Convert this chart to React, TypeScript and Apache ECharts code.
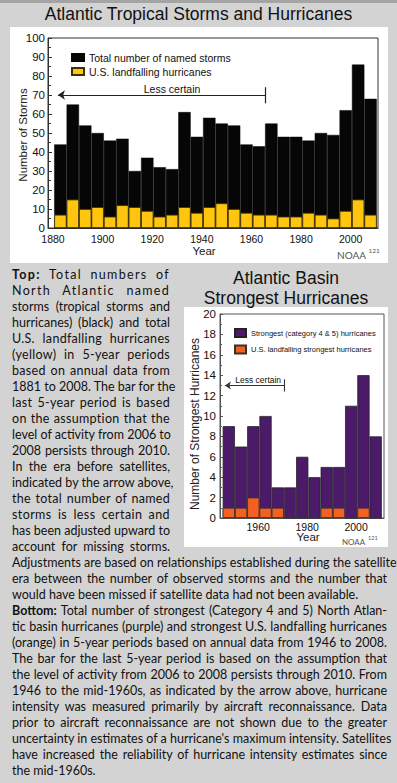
import React, { useEffect, useRef } from 'react';
import * as echarts from 'echarts';

// ---------- DATA ----------
// Top chart: 5-year periods (first year of each period), 1881-2010
const stormPeriodStarts = [1881, 1886, 1891, 1896, 1901, 1906, 1911, 1916, 1921, 1926, 1931, 1936, 1941, 1946, 1951, 1956, 1961, 1966, 1971, 1976, 1981, 1986, 1991, 1996, 2001, 2006];
const namedStorms = [44, 65, 54, 50, 46, 47, 30, 37, 32, 31, 61, 48, 58, 55, 54, 44, 43, 55, 48, 48, 46, 50, 49, 62, 86, 68];
const landfallingHurricanes = [7, 15, 10, 11, 6, 12, 11, 9, 6, 7, 11, 8, 11, 13, 10, 8, 7, 7, 6, 6, 8, 7, 5, 9, 15, 7];
const topYearTicks = [1880, 1900, 1920, 1940, 1960, 1980, 2000];
const topYTicks = [0, 10, 20, 30, 40, 50, 60, 70, 80, 90, 100];

// Bottom chart: 5-year periods, 1946-2010
const strongPeriodStarts = [1946, 1951, 1956, 1961, 1966, 1971, 1976, 1981, 1986, 1991, 1996, 2001, 2006];
const strongestHurricanes = [9, 7, 9, 10, 3, 3, 6, 4, 5, 5, 11, 14, 8];
const landfallingStrongest = [1, 1, 2, 1, 1, 0, 0, 0, 1, 1, 0, 1, 0];
const bottomYearTicks = [1960, 1980, 2000];

// "Less certain" annotations (years, values)
const topLessCertain = { from: 1882, to: 1965.5, value: 70, barLow: 65.6, barHigh: 74.1, labelAt: 1928 };
const bottomLessCertain = { from: 1946.4, to: 1970.7, value: 13, barLow: 12.4, barHigh: 13.6, labelAt: 1960 };

// Caption lines
const leftLines: [string, string][] = [
  ['Top:', ' Total numbers of'],
  ['', 'North Atlantic named'],
  ['', 'storms (tropical storms and'],
  ['', 'hurricanes) (black) and total'],
  ['', 'U.S. landfalling hurricanes'],
  ['', '(yellow) in 5-year periods'],
  ['', 'based on annual data from'],
  ['', '1881 to 2008. The bar for the'],
  ['', 'last 5-year period is based'],
  ['', 'on the assumption that the'],
  ['', 'level of activity from 2006 to'],
  ['', '2008 persists through 2010.'],
  ['', 'In the era before satellites,'],
  ['', 'indicated by the arrow above,'],
  ['', 'the total number of named'],
  ['', 'storms is less certain and'],
  ['', 'has been adjusted upward to'],
  ['', 'account for missing storms.'],
];
const leftLetterSpacing = [1.3, 1.3, 0, 0, 0.3, 0.3, 0.3, 0, 0.3, 0.3, 0, 0, 0, 0, 0.3, 0.4, 0, 0];
const fullLines: [string, string, boolean][] = [
  ['', 'Adjustments are based on relationships established during the satellite', true],
  ['', 'era between the number of observed storms and the number that', true],
  ['', 'would have been missed if satellite data had not been available.', false],
  ['Bottom:', ' Total number of strongest (Category 4 and 5) North Atlan-', true],
  ['', 'tic basin hurricanes (purple) and strongest U.S. landfalling hurricanes', true],
  ['', '(orange) in 5-year periods based on annual data from 1946 to 2008.', true],
  ['', 'The bar for the last 5-year period is based on the assumption that', true],
  ['', 'the level of activity from 2006 to 2008 persists through 2010. From', true],
  ['', '1946 to the mid-1960s, as indicated by the arrow above, hurricane', true],
  ['', 'intensity was measured primarily by aircraft reconnaissance. Data', true],
  ['', 'prior to aircraft reconnaissance are not shown due to the greater', true],
  ['', "uncertainty in estimates of a hurricane's maximum intensity. Satellites", true],
  ['', 'have increased the reliability of hurricane intensity estimates since', true],
  ['', 'the mid-1960s.', false],
];

const CHART_FONT = '"Liberation Sans", Arial, Helvetica, sans-serif';
const CAPTION_FONT = 'Lato, "Open Sans", sans-serif';

export default function App() {
  const ref = useRef<HTMLDivElement>(null);

  useEffect(() => {
    if (!ref.current) return;
    const chart = echarts.init(ref.current, null, { renderer: 'svg' });

    const g1 = { left: 48, top: 38, width: 330, height: 190 };
    const x1 = { min: 1878, max: 2011 };
    const bw1 = (g1.width / (x1.max - x1.min)) * 5;

    const g2 = { left: 220, top: 314, width: 164, height: 204 };
    const x2 = { min: 1944.4, max: 2011.4 };
    const bw2 = (g2.width / (x2.max - x2.min)) * 5;

    const mid = (s: number) => s + 2;

    const axisLabelStyle = { fontFamily: CHART_FONT, color: '#111' };
    const txt = (x: number, y: number, text: string, fontSize: number, extra: any = {}, rotation = 0, align = 'center') => ({
      type: 'text', x, y, rotation,
      style: {
        text, fontSize, fontFamily: CHART_FONT, fill: '#111',
        align, verticalAlign: 'middle', textAlign: align, textVerticalAlign: 'middle', ...extra,
      },
    });

    const option: any = {
      animation: false,
      textStyle: { fontFamily: CHART_FONT },
      grid: [
        { ...g1, show: true, borderColor: '#333', borderWidth: 1, backgroundColor: 'transparent' },
        { ...g2, show: true, borderColor: '#555', borderWidth: 1, backgroundColor: 'transparent' },
      ],
      xAxis: [
        {
          type: 'value', gridIndex: 0, min: x1.min, max: x1.max,
          splitLine: { show: false },
          axisLine: { lineStyle: { color: '#333' } },
          axisTick: { show: false },
          axisLabel: { ...axisLabelStyle, fontSize: 10.5, margin: 5, customValues: topYearTicks, formatter: (v: number) => String(v) },
        },
        {
          type: 'value', gridIndex: 1, min: x2.min, max: x2.max,
          splitLine: { show: false },
          axisLine: { lineStyle: { color: '#555' } },
          axisTick: { show: false },
          axisLabel: { ...axisLabelStyle, fontSize: 10.5, margin: 3, customValues: bottomYearTicks, formatter: (v: number) => String(v) },
        },
      ],
      yAxis: [
        {
          type: 'value', gridIndex: 0, min: topYTicks[0], max: topYTicks[topYTicks.length - 1], interval: 10,
          splitLine: { show: false },
          axisLine: { show: true, lineStyle: { color: '#333' } },
          axisTick: { show: true, inside: true, length: 4, lineStyle: { color: '#333' } },
          minorTick: { show: true, splitNumber: 2, length: 3, lineStyle: { color: '#333' } },
          axisLabel: { ...axisLabelStyle, fontSize: 11.5, margin: 3 },
        },
        {
          type: 'value', gridIndex: 1, min: 0, max: 20, interval: 2,
          splitLine: { show: false },
          axisLine: { show: true, lineStyle: { color: '#555' } },
          axisTick: { show: true, inside: true, length: 3, lineStyle: { color: '#555' } },
          minorTick: { show: true, splitNumber: 2, length: 2, lineStyle: { color: '#555' } },
          axisLabel: { ...axisLabelStyle, fontSize: 11.5, margin: 4 },
        },
      ],
      legend: [
        {
          left: 66, top: 47, orient: 'vertical', itemWidth: 12, itemHeight: 7, itemGap: 3, icon: 'rect',
          data: ['Total number of named storms', 'U.S. landfalling hurricanes'],
          textStyle: { fontSize: 10.5, color: '#111', fontFamily: CHART_FONT },
        },
        {
          left: 229, top: 323, orient: 'vertical', itemWidth: 11, itemHeight: 8, itemGap: 6.5, icon: 'rect',
          data: ['Strongest (category 4 & 5) hurricanes', 'U.S. landfalling strongest hurricanes'],
          textStyle: { fontSize: 7.5, color: '#111', fontFamily: CHART_FONT },
        },
      ],
      series: [
        {
          name: 'Total number of named storms', type: 'bar', xAxisIndex: 0, yAxisIndex: 0,
          barWidth: bw1, barGap: '-100%',
          itemStyle: { color: '#060606', borderColor: '#060606', borderWidth: 0.5 },
          data: stormPeriodStarts.map((s, i) => [mid(s), namedStorms[i]]),
          markLine: {
            silent: true, symbol: ['arrow', 'none'], symbolSize: [7, 7],
            lineStyle: { color: '#222', width: 1.2, type: 'solid' },
            label: { show: false },
            data: [
              [{ coord: [topLessCertain.from, topLessCertain.value] }, { coord: [topLessCertain.to, topLessCertain.value] }],
              [{ coord: [topLessCertain.to, topLessCertain.barLow], symbol: 'none' }, { coord: [topLessCertain.to, topLessCertain.barHigh], symbol: 'none' }],
            ],
          },
          markPoint: {
            silent: true,
            data: [{
              coord: [topLessCertain.labelAt, topLessCertain.value], symbol: 'rect', symbolSize: 0,
              label: { show: true, formatter: 'Less certain', position: 'top', distance: 1, color: '#111', fontSize: 10.5, fontFamily: CHART_FONT },
            }],
          },
        },
        {
          name: 'U.S. landfalling hurricanes', type: 'bar', xAxisIndex: 0, yAxisIndex: 0,
          barWidth: bw1, barGap: '-100%',
          itemStyle: { color: '#FFC50F', borderColor: '#3a3200', borderWidth: 0.8 },
          data: stormPeriodStarts.map((s, i) => [mid(s), landfallingHurricanes[i]]),
        },
        {
          name: 'Strongest (category 4 & 5) hurricanes', type: 'bar', xAxisIndex: 1, yAxisIndex: 1,
          barWidth: bw2, barGap: '-100%',
          itemStyle: { color: '#4B1B69', borderColor: '#222', borderWidth: 0.8 },
          data: strongPeriodStarts.map((s, i) => [mid(s), strongestHurricanes[i]]),
          markLine: {
            silent: true, symbol: ['arrow', 'none'], symbolSize: [6, 6],
            lineStyle: { color: '#333', width: 1.1, type: 'solid' },
            label: { show: false },
            data: [
              [{ coord: [bottomLessCertain.from, bottomLessCertain.value] }, { coord: [bottomLessCertain.to, bottomLessCertain.value] }],
              [{ coord: [bottomLessCertain.to, bottomLessCertain.barLow], symbol: 'none' }, { coord: [bottomLessCertain.to, bottomLessCertain.barHigh], symbol: 'none' }],
            ],
          },
          markPoint: {
            silent: true,
            data: [{
              coord: [bottomLessCertain.labelAt, bottomLessCertain.value], symbol: 'rect', symbolSize: 0,
              label: { show: true, formatter: 'Less certain', position: 'top', distance: 1, color: '#111', fontSize: 8.5, fontFamily: CHART_FONT },
            }],
          },
        },
        {
          name: 'U.S. landfalling strongest hurricanes', type: 'bar', xAxisIndex: 1, yAxisIndex: 1,
          barWidth: bw2, barGap: '-100%',
          itemStyle: { color: '#F4601F', borderColor: '#333', borderWidth: 0.8 },
          data: strongPeriodStarts.map((s, i) => [mid(s), landfallingStrongest[i]]),
        },
      ],
      graphic: [
        txt(198.5, 14, 'Atlantic Tropical Storms and Hurricanes', 17.5),
        txt(286, 277.5, 'Atlantic Basin', 17.5),
        txt(286, 297.5, 'Strongest Hurricanes', 17.5),
        txt(22.7, 135, 'Number of Storms', 11.5, { fill: '#222' }, Math.PI / 2),
        txt(195, 424, 'Number of Strongest Hurricanes', 12, { fill: '#222' }, Math.PI / 2),
        txt(204, 250.7, 'Year', 11.5, { fill: '#222' }),
        txt(308, 537, 'Year', 11.5, { fill: '#222' }),
        txt(337, 255, 'NOAA', 10, { fill: '#555', fontFamily: CAPTION_FONT }, 0, 'left'),
        txt(368.5, 250, '121', 6.5, { fill: '#555', fontFamily: CAPTION_FONT }, 0, 'left'),
        txt(342, 542, 'NOAA', 8, { fill: '#555', fontFamily: CAPTION_FONT }, 0, 'left'),
        txt(368, 537.5, '121', 5.5, { fill: '#555', fontFamily: CAPTION_FONT }, 0, 'left'),
      ],
    };

    chart.setOption(option);
    return () => chart.dispose();
  }, []);

  const lineStyle = (top: number, left: number, width: number, justify: boolean, letterSpacing = 0): React.CSSProperties => ({
    position: 'absolute', top, left, width, height: 16, lineHeight: '16px',
    fontFamily: CAPTION_FONT, fontSize: 12.5, color: '#111', whiteSpace: 'nowrap',
    letterSpacing: letterSpacing ? letterSpacing + 'px' : undefined,
    textAlign: justify ? 'justify' : 'left', textAlignLast: justify ? 'justify' : 'left',
  } as React.CSSProperties);

  return (
    <div style={{ position: 'absolute', left: 0, top: 0, width: 397, height: 783, background: '#d3d3d3', overflow: 'hidden' }}>
      <div style={{ position: 'absolute', left: 0, top: 0, width: 397, height: 3, background: '#a4a4a4' }} />
      <div style={{ position: 'absolute', left: 10, top: 27, width: 378, height: 236, background: '#ffffff' }} />
      <div style={{ position: 'absolute', left: 184, top: 307, width: 204, height: 240, background: '#ffffff' }} />
      <div ref={ref} style={{ position: 'absolute', left: 0, top: 0, width: 397, height: 783 }} />
      {leftLines.map(([b, t], i) => (
        <div key={'l' + i} style={lineStyle(267 + 16 * i, 12, 158, true, leftLetterSpacing[i])}>
          {b ? <b>{b}</b> : null}{t}
        </div>
      ))}
      {fullLines.map(([b, t, j], i) => (
        <div key={'f' + i} style={lineStyle(267 + 16 * (18 + i), 12, 375, j)}>
          {b ? <b>{b}</b> : null}{t}
        </div>
      ))}
    </div>
  );
}
